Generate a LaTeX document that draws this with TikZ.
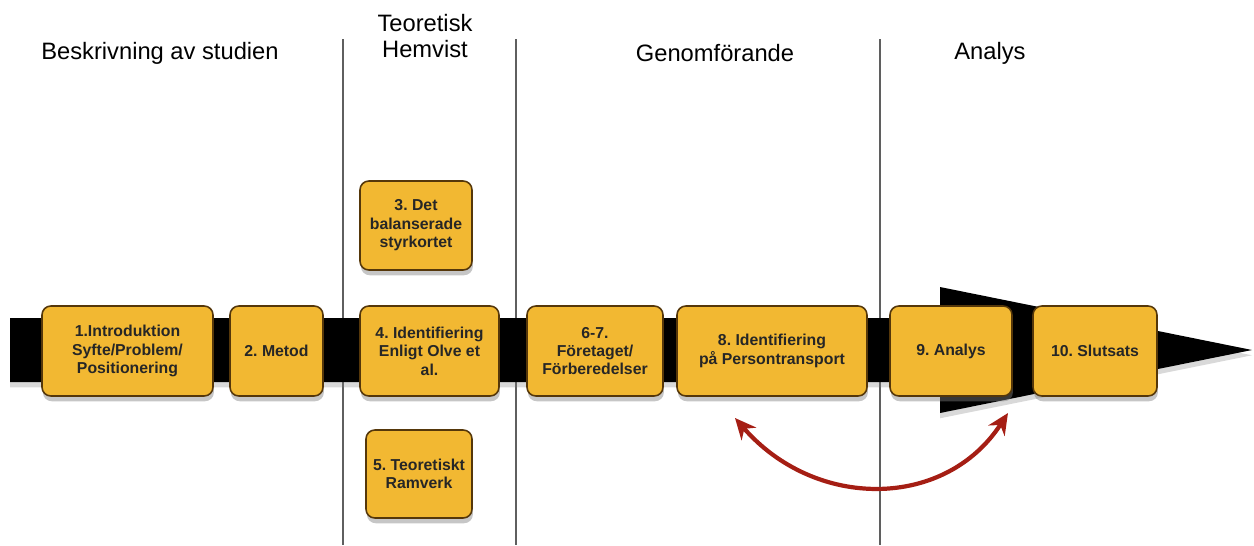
\documentclass[tikz,border=0pt]{standalone}
\usepackage{fontspec}
\setmainfont{Liberation Sans}
\usetikzlibrary{arrows.meta,shadows}

\definecolor{boxfill}{RGB}{242,184,50}
\definecolor{boxedge}{RGB}{85,55,10}
\definecolor{sepgray}{RGB}{95,95,95}
\definecolor{linkred}{RGB}{165,30,20}

\tikzset{
    phase/.style={rounded corners=5pt, draw=boxedge, line width=0.9pt, fill=boxfill,
        drop shadow={shadow xshift=0.5pt, shadow yshift=-3pt, opacity=0.45},
        align=center, inner sep=1pt, minimum height=1.8cm,
        font=\fontsize{9}{10.5}\selectfont\bfseries\frenchspacing, text=black!85},
    heading/.style={align=center, font=\fontsize{13.5}{14.5}\selectfont},
    link/.style={linkred, line width=2.4pt, {Stealth[length=12pt,width=11pt]}-{Stealth[length=12pt,width=11pt]}}
}

\begin{document}
\begin{tikzpicture}[x=0.02cm, y=-0.02cm]
    \useasboundingbox (0,0) rectangle (1254,545);
    % column separators
    \foreach \x in {343,516,880} {
        \draw [sepgray, line width=0.9pt] (\x,39) -- (\x,545);
    }
    % column headings
    \node[heading] (h1) at (160,53) {Beskrivning av studien};
    \node[heading] (h2) at (425,36) {Teoretisk\\Hemvist};
    \node[heading] (h3) at (715,53) {Genomförande};
    \node[heading] (h4) at (990,53) {Analys};
    % time line
    \fill [black, drop shadow={shadow xshift=0pt, shadow yshift=-3pt, opacity=0.3}]
        (10,318) -- (940,318) -- (940,287) -- (1252,350) -- (940,413) -- (940,382) -- (10,382) -- cycle;
    % phases
    \node[phase, minimum width=3.42cm] (b1) at (127.5,351) {1.Introduktion\\Syfte/Problem/\\Positionering};
    \node[phase, minimum width=1.86cm] (b2) at (276.5,351) {2. Metod};
    \node[phase, minimum width=2.24cm, minimum height=1.78cm] (b3) at (416,225.5) {3. Det\\balanserade\\styrkortet};
    \node[phase, minimum width=2.78cm] (b4) at (429.5,351) {4. Identifiering\\Enligt Olve et\\al.};
    \node[phase, minimum width=2.12cm, minimum height=1.76cm] (b5) at (419,474) {5. Teoretiskt\\Ramverk};
    \node[phase, minimum width=2.72cm] (b6) at (595,351) {6-7.\\Företaget/\\Förberedelser};
    \node[phase, minimum width=3.8cm] (b7) at (772,351) {8. Identifiering\\på Persontransport};
    \node[phase, minimum width=2.44cm] (b8) at (951,351) {9. Analys};
    \node[phase, minimum width=2.48cm] (b9) at (1095,351) {10. Slutsats};
    % feedback between identification and analysis
    \coordinate (fromid) at (735,418);
    \coordinate (toan) at (1008,413);
    \draw [link] (fromid) .. controls (815,510) and (945,510) .. (toan);
\end{tikzpicture}
\end{document}
